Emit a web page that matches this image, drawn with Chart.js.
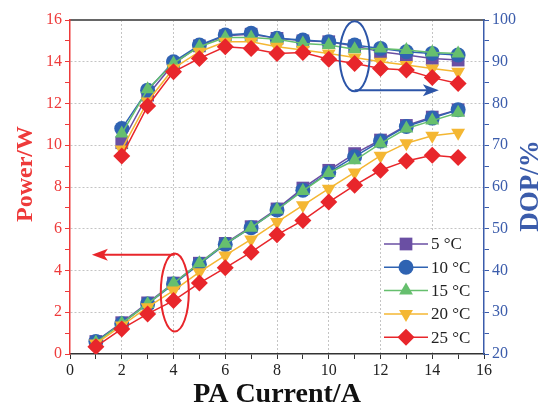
<!DOCTYPE html>
<html>
<head>
<meta charset="utf-8">
<script src="https://cdn.jsdelivr.net/npm/chart.js@4.4.0/dist/chart.umd.min.js"></script>
<style>
  html, body { margin: 0; padding: 0; background: #fff; }
  #wrap { width: 548px; height: 412px; }
</style>
</head>
<body>
<div id="wrap"><canvas id="myChart"></canvas></div>
<script>
// x values (PA current, A)
const current = [1, 2, 3, 4, 5, 6, 7, 8, 9, 10, 11, 12, 13, 14, 15];
const dopCurrent = [2, 3, 4, 5, 6, 7, 8, 9, 10, 11, 12, 13, 14, 15];
const temps = ["5 °C", "10 °C", "15 °C", "20 °C", "25 °C"];

// output power (W), left axis
const power5 = [0.6, 1.5, 2.45, 3.4, 4.35, 5.3, 6.1, 6.95, 7.95, 8.8, 9.6, 10.25, 10.95, 11.35, 11.7];
const power10 = [0.6, 1.45, 2.4, 3.35, 4.3, 5.25, 6.05, 6.9, 7.85, 8.7, 9.45, 10.2, 10.9, 11.3, 11.7];
const power15 = [0.55, 1.47, 2.4, 3.39, 4.35, 5.28, 6.05, 6.91, 7.81, 8.67, 9.28, 10.08, 10.8, 11.18, 11.56];
const power20 = [0.5, 1.36, 2.24, 3.04, 3.92, 4.72, 5.49, 6.32, 7.12, 7.92, 8.7, 9.5, 10.1, 10.45, 10.6];
const power25 = [0.35, 1.2, 1.92, 2.56, 3.4, 4.13, 4.88, 5.71, 6.4, 7.28, 8.08, 8.8, 9.25, 9.52, 9.41];

// degree of polarization (%), right axis
const dop5 = [70.6, 82, 89.5, 93.8, 96.2, 96.6, 95.6, 95, 94.8, 93.8, 92.4, 91.6, 90.8, 90.4];
const dop10 = [74, 83.2, 90, 94, 96.4, 96.8, 95.6, 95.2, 94.8, 94, 93.2, 92.4, 92, 91.6];
const dop15 = [72.8, 83.4, 89.6, 93.6, 95.8, 95.8, 95.4, 94.4, 94, 93, 93.2, 92.8, 92.2, 92];
const dop20 = [69, 80.5, 88.4, 92.4, 94.8, 94.8, 93.6, 92.8, 92, 91, 90, 89.2, 88.4, 87.6];
const dop25 = [67.4, 79.4, 87.6, 90.8, 93.6, 93.2, 92, 92.2, 90.6, 89.6, 88.4, 88, 86.2, 84.8];

const colors = ["#6a4fa3", "#2f63b2", "#66bf6e", "#f4b733", "#e8262b"];
const shapes = ["rect", "circle", "triangle", "triangle", "rectRot"];
const rotations = [0, 0, 0, 180, 0];
const radii = [9, 7.5, 8, 8, 8.5];

const powerSets = [power5, power10, power15, power20, power25];
const dopSets = [dop5, dop10, dop15, dop20, dop25];

const serif = "'Liberation Serif', 'DejaVu Serif', serif";
const redAxis = "#ee3a3a";
const blueAxis = "#3b5cab";

function makeSet(xs, ys, i, axis) {
  return {
    label: temps[i],
    data: xs.map((x, k) => ({ x: x, y: ys[k] })),
    yAxisID: axis,
    borderColor: colors[i],
    backgroundColor: colors[i],
    borderWidth: 1.5,
    pointStyle: shapes[i],
    pointRotation: rotations[i],
    pointRadius: radii[i],
    pointBorderWidth: 0,
    tension: 0,
    order: 5 - i,
  };
}

const datasets = [];
for (let i = 0; i < 5; i++) {
  datasets.push(makeSet(current, powerSets[i], i, "y"));
  datasets.push(makeSet(dopCurrent, dopSets[i], i, "y2"));
}

// ellipses + arrows, legend box, axis titles read bottom-to-top
const extras = {
  id: "extras",
  afterDatasetsDraw(chart) {
    const ctx = chart.ctx;
    const sx = chart.scales.x, sy = chart.scales.y, sy2 = chart.scales.y2;

    function ellipseArrow(cx, cy, rx, ry, color, ax0, ay0, ax1, dir) {
      ctx.save();
      ctx.strokeStyle = color;
      ctx.lineWidth = 2;
      ctx.beginPath();
      ctx.ellipse(cx, cy, rx, ry, 0, 0, Math.PI * 2);
      ctx.stroke();
      ctx.beginPath();
      ctx.moveTo(ax0, ay0);
      ctx.lineTo(ax1, ay0);
      ctx.stroke();
      ctx.fillStyle = color;
      ctx.beginPath();
      ctx.moveTo(ax1 + dir * 4, ay0);
      ctx.lineTo(ax1 - dir * 12, ay0 - 6);
      ctx.lineTo(ax1 - dir * 8, ay0);
      ctx.lineTo(ax1 - dir * 12, ay0 + 6);
      ctx.closePath();
      ctx.fill();
      ctx.restore();
    }

    // red: power curves -> left axis
    const rcx = sx.getPixelForValue(4.05), rcy = sy.getPixelForValue(2.95);
    ellipseArrow(rcx, rcy, 14, 39, "#e8262b", rcx, sy.getPixelForValue(4.75), sx.getPixelForValue(1.0), -1);
    // blue: DOP curves -> right axis
    const bcx = sx.getPixelForValue(11.0), bcy = sy2.getPixelForValue(91.3);
    ellipseArrow(bcx, bcy, 15, 35, "#2c55a8", bcx, sy2.getPixelForValue(83.2), sx.getPixelForValue(14.1), 1);

    // legend
    const area = chart.chartArea;
    const lx = area.right - 102, ly = area.bottom - 123;
    ctx.save();
    ctx.fillStyle = "#fff";
    ctx.fillRect(lx, ly, 100, 120);
    ctx.font = "17px " + serif;
    ctx.textBaseline = "middle";
    for (let i = 0; i < 5; i++) {
      const y = ly + 13 + i * 23.3;
      ctx.strokeStyle = colors[i];
      ctx.lineWidth = 1.5;
      ctx.beginPath();
      ctx.moveTo(lx + 2, y);
      ctx.lineTo(lx + 46, y);
      ctx.stroke();
      ctx.fillStyle = colors[i];
      Chart.helpers.drawPoint(ctx, {
        pointStyle: shapes[i], rotation: rotations[i], radius: radii[i], borderWidth: 0
      }, lx + 24, y);
      ctx.fillStyle = "#222";
      ctx.fillText(temps[i], lx + 49, y + 1);
    }
    ctx.restore();

    // axis titles
    function vTitle(text, x, y, color, size) {
      ctx.save();
      ctx.translate(x, y);
      ctx.rotate(-Math.PI / 2);
      ctx.font = "bold " + size + "px " + serif;
      ctx.fillStyle = color;
      ctx.textAlign = "center";
      ctx.textBaseline = "middle";
      ctx.fillText(text, 0, 0);
      ctx.restore();
    }
    vTitle("Power/W", 26, 174, redAxis, 24);
    vTitle("DOP/%", 531, 186, blueAxis, 27);
  }
};

const canvas = document.getElementById("myChart");

const myChart = new Chart(canvas, {
  type: "line",
  data: { datasets: datasets },
  plugins: [extras],
  options: {
    responsive: true,
    maintainAspectRatio: false,
    animation: false,
    layout: { padding: 0 },
    plugins: { legend: { display: false }, tooltip: { enabled: false } },
    scales: {
      x: {
        type: "linear",
        min: 0,
        max: 16,
        afterFit: (s) => { s.height = 58; },
        ticks: {
          stepSize: 1,
          autoSkip: false,
          maxRotation: 0,
          color: "#222",
          font: { family: serif, size: 16 },
          padding: 2,
          callback: (v) => (v % 2 === 0 ? v : ""),
        },
        grid: {
          color: (c) => (c.tick && c.tick.value % 2 === 0 && c.tick.value > 0 && c.tick.value < 16 ? "#c4c4c4" : "rgba(0,0,0,0)"),
          tickColor: "#333",
          tickLength: 5,
          tickBorderDash: [],
        },
        border: { color: "#333", width: 1.5, dash: [2, 2] },
        title: {
          display: true,
          text: "PA Current/A",
          color: "#111",
          font: { family: serif, size: 28, weight: "bold" },
          padding: { top: 0, bottom: 0 },
        },
      },
      x2: {
        type: "linear",
        position: "top",
        min: 0,
        max: 16,
        afterFit: (s) => { s.height = 20; },
        ticks: { display: false },
        grid: { display: false },
        border: { color: "#666", width: 2 },
      },
      y: {
        position: "left",
        min: 0,
        max: 16,
        afterFit: (s) => { s.width = 70; },
        ticks: {
          stepSize: 1,
          autoSkip: false,
          color: redAxis,
          font: { family: serif, size: 16 },
          padding: 3,
          callback: (v) => (v % 2 === 0 ? v : ""),
        },
        grid: {
          color: (c) => (c.tick && c.tick.value % 2 === 0 && c.tick.value > 0 && c.tick.value < 16 ? "#c4c4c4" : "rgba(0,0,0,0)"),
          tickColor: redAxis,
          tickLength: 5,
          tickBorderDash: [],
        },
        border: { color: redAxis, width: 1.5, dash: [2, 2] },
      },
      y2: {
        position: "right",
        min: 20,
        max: 100,
        afterFit: (s) => { s.width = 64; },
        ticks: {
          stepSize: 5,
          autoSkip: false,
          color: blueAxis,
          font: { family: serif, size: 16 },
          padding: 3,
          callback: (v) => (v % 10 === 0 ? v : ""),
        },
        grid: {
          drawOnChartArea: false,
          tickColor: blueAxis,
          tickLength: 5,
        },
        border: { color: blueAxis, width: 1.5 },
      },
    },
  },
});
</script>
</body>
</html>
